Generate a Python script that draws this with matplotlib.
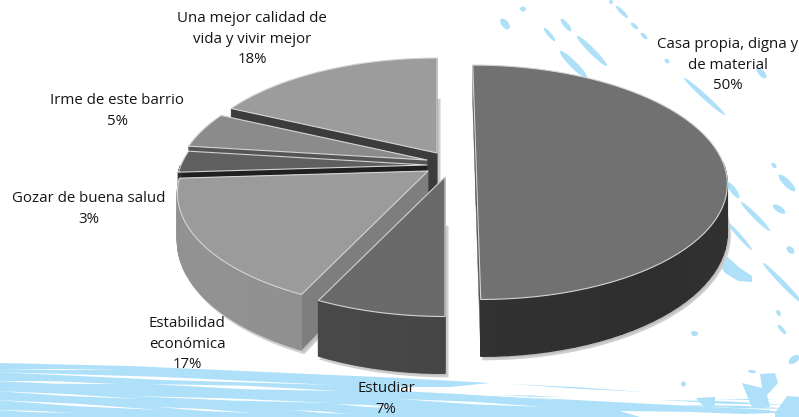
import numpy as np
import matplotlib
matplotlib.use('Agg')
import matplotlib.pyplot as plt
from matplotlib.patches import Ellipse, Polygon

labels = ['Casa propia, digna y\nde material\n50%', 'Estudiar\n7%', 'Estabilidad\neconómica\n17%',
          'Gozar de buena salud\n3%', 'Irme de este barrio\n5%', 'Una mejor calidad de\nvida y vivir mejor\n18%']
shares = [50, 7, 17, 3, 5, 18]

# apex of each slice on the page (exploded pie)
apex_x = [476, 445, 428, 427, 427, 437]
apex_y = [160, 177, 171, 165, 160, 153]
shear = [0.034, 0, 0, 0, 0, 0]
top_col = ['#717171', '#6a6a6a', '#9b9b9b', '#5f5f5f', '#8b8b8b', '#9c9c9c']
wall_col = ['#303030', '#434343', '#858585', '#2a2a2a', '#6f6f6f', '#757575']
cut_col = ['#555555', '#4a4a4a', '#7e7e7e', '#1f1f1f', '#555555', '#3c3c3c']
label_x = [728, 386, 187, 89, 117, 252]
label_y = [65, 399, 344, 209, 111, 39]
draw_order = [5, 4, 3, 2, 1, 0]

# perspective of the disc
RX, RY, K, DEPTH = 246.0, 113.0, 0.19, 46.0
STREAK = '#aee1f9'

# solid part of the brush area at the bottom, then white scratches over it
band = [(0, 363), (130, 366), (400, 378), (490, 383), (450, 387), (400, 387), (400, 391), (770, 410),
        (770, 413), (620, 411), (640, 417), (0, 417)]
white_strokes = [(-5, 372, 333, 385, 3), (0, 369, 120, 370, 1), (-5, 381, 117, 384, 2.5), (150, 384, 340, 391, 3.5),
                 (-5, 391, 140, 399, 2), (130, 396, 333, 403, 2), (-5, 400, 160, 410, 2.5), (157, 407, 253, 413, 2),
                 (-5, 410, 73, 413, 1.5), (290, 410, 350, 414, 1.5), (335, 404, 400, 408, 2), (400, 399, 545, 407, 2.5),
                 (400, 389, 560, 400, 1.5)]
blue_strokes = [(510, 384, 645, 392, 1.5), (500, 395, 560, 397, 1.2), (660, 400, 790, 405, 2.5), (690, 412, 799, 412, 4),
                (715, 399, 780, 400, 1), (680, 405, 799, 409, 2.5)]
# ends of the drops and their width
drops = [(520, 9, 526, 9, 5), (501, 19, 509, 29, 7), (609, 2, 613, 2, 4), (616, 6, 628, 18, 4), (631, 23, 638, 29, 4),
         (641, 33, 647, 39, 4), (561, 19, 571, 31, 5), (544, 28, 555, 41, 4), (577, 36, 607, 66, 6), (560, 51, 587, 78, 7),
         (665, 59, 669, 63, 4), (684, 78, 725, 115, 5), (757, 68, 766, 78, 6), (727, 182, 739, 198, 6), (741, 202, 770, 231, 5),
         (725, 220, 752, 250, 4), (772, 163, 776, 168, 4), (779, 175, 795, 191, 7), (773, 205, 785, 213, 6), (787, 247, 794, 253, 6),
         (763, 263, 803, 304, 5), (777, 310, 780, 316, 4), (778, 325, 786, 334, 4), (789, 363, 799, 356, 7), (691, 333, 698, 334, 5),
         (748, 371, 756, 372, 3), (681, 384, 686, 384, 5)]
blobs = [[(723, 253), (740, 268), (752, 276), (752, 282), (738, 281), (730, 276), (725, 273), (720, 265)],
         [(742, 383), (762, 388), (760, 374), (775, 373), (778, 383), (767, 395), (770, 407), (752, 407), (748, 398)],
         [(799, 397), (787, 396), (775, 413), (775, 417), (799, 417)],
         [(696, 398), (715, 397), (715, 405), (708, 409), (700, 403)]]


def project(theta, sx, sy, slant=0.0, down=0.0):
    # theta runs clockwise from the back of the disc
    u, v = np.sin(theta), np.cos(theta)
    w = 1 + K * v
    y = -RY * v / w
    return sx + RX * u / w + slant * y, sy + y + down * DEPTH / w


def shade(col, f):
    return tuple(np.clip(np.array(matplotlib.colors.to_rgb(col)) * f, 0, 1))


def lens(ax, x0, y0, x1, y1, w, col, z):
    xm, ym = (x0 + x1) / 2, (y0 + y1) / 2
    nx, ny = -(y1 - y0), x1 - x0
    n = np.hypot(nx, ny)
    nx, ny = nx / n * w / 2, ny / n * w / 2
    ax.add_patch(Polygon([(x0, y0), (xm + nx, ym + ny), (x1, y1), (xm - nx, ym - ny)], closed=True,
                         fc=col, ec='none', zorder=z))


def draw_slice(ax, a0, a1, sx, sy, slant, top, wall, cut, z):
    t = np.linspace(a0, a1, 70)
    x_top, y_top = project(t, sx, sy, slant)
    x_low, y_low = project(t, sx, sy, slant, 1)
    low_apex = sy + DEPTH

    # soft shadow round the whole piece
    outline = np.vstack([np.column_stack([x_low, y_low]), [[sx, low_apex]]])
    ax.add_patch(Polygon(outline + [2.5, 3], closed=True, fc='#bfbfbf', ec='#cfcfcf', lw=1.5, zorder=2))

    # cut faces
    for i in (0, -1):
        quad = [(sx, sy), (x_top[i], y_top[i]), (x_low[i], y_low[i]), (sx, low_apex)]
        ax.add_patch(Polygon(quad, closed=True, fc=cut, ec=cut, lw=0.3, zorder=z))

    # outer wall, only the part facing us, split in strips for the gradient
    for i in range(len(t) - 1):
        mid = (t[i] + t[i + 1]) / 2
        if np.cos(mid) > 0.0:
            continue
        f = 0.96 + 0.14 * abs(np.sin(mid + 0.6))
        quad = [(x_top[i], y_top[i]), (x_top[i + 1], y_top[i + 1]), (x_low[i + 1], y_low[i + 1]), (x_low[i], y_low[i])]
        c = shade(wall, f)
        ax.add_patch(Polygon(quad, closed=True, fc=c, ec=c, lw=1.0, zorder=z))

    face = np.vstack([[[sx, sy]], np.column_stack([x_top, y_top])])
    ax.add_patch(Polygon(face, closed=True, fc=top, ec='#d4d4d4', lw=0.8, joinstyle='round', zorder=z + 0.5))


fig = plt.figure(figsize=(7.99, 4.17), dpi=100)
ax = fig.add_axes([0, 0, 1, 1])
ax.set_xlim(0, 799)
ax.set_ylim(417, 0)
ax.axis('off')

# background decoration
ax.add_patch(Polygon(band, closed=True, fc=STREAK, ec='none', zorder=1))
for stroke in white_strokes:
    lens(ax, *stroke, 'white', 1.1)
for stroke in blue_strokes:
    lens(ax, *stroke, STREAK, 1.2)
for x0, y0, x1, y1, w in drops:
    length = np.hypot(x1 - x0, y1 - y0)
    ax.add_patch(Ellipse(((x0 + x1) / 2, (y0 + y1) / 2), length, w,
                         angle=np.degrees(np.arctan2(y1 - y0, x1 - x0)), fc=STREAK, ec='none', zorder=1.2))
for blob in blobs:
    ax.add_patch(Polygon(blob, closed=True, fc=STREAK, ec='none', zorder=1.2))

edges = np.cumsum([0] + shares) / sum(shares) * 2 * np.pi
for z, i in enumerate(draw_order):
    draw_slice(ax, edges[i], edges[i + 1], apex_x[i], apex_y[i], shear[i], top_col[i], wall_col[i], cut_col[i], 3 + z)

for txt, x, y in zip(labels, label_x, label_y):
    ax.text(x, y, txt, ha='center', va='center', family=['Open Sans', 'DejaVu Sans'], fontsize=10.8,
            color='#151515', linespacing=1.5, zorder=12)

fig.savefig('out.png', dpi=100)
